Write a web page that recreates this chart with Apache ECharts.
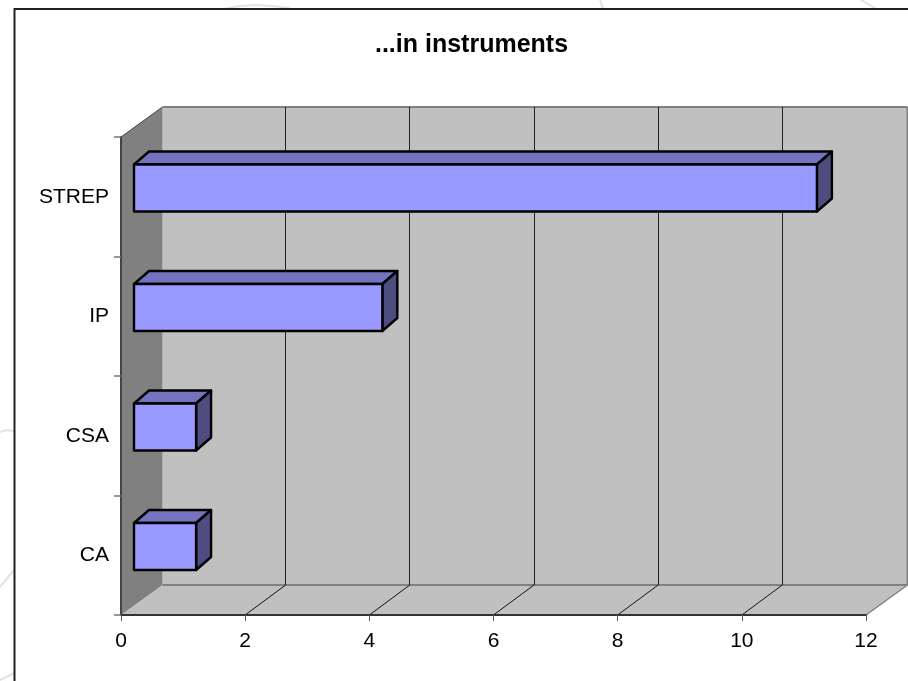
<!DOCTYPE html>
<html><head><meta charset="utf-8">
<style>html,body{margin:0;padding:0;background:#fff}#c{width:908px;height:681px}</style>
<script src="https://cdn.jsdelivr.net/npm/echarts@6/dist/echarts.min.js"></script>
</head><body><div id="c"></div>
<script>
var titleText = '...in instruments';
var categories = ['CA', 'CSA', 'IP', 'STREP'];
var values = [1, 1, 4, 11];
var xTicks = [0, 2, 4, 6, 8, 10, 12];

var FONT = '"Liberation Sans", Arial, sans-serif';
var WALL_DX = 41.5, WALL_DY = -30;
var BAR_SHIFT_X = 13, BAR_SHIFT_Y = -8.75, BAR_DX = 15, BAR_DY = -13, BAR_H = 47;
var C = {wall:'#C0C0C0', side:'#808080', edge:'#808080', grid:'#222222', front:'#9999FF', top:'#7373BF', right:'#4D4D80', faint:'#E2E2E2'};

var chart = echarts.init(document.getElementById('c'), null, {renderer:'canvas'});

function poly(pts, fill, stroke, lw){
  return {type:'polygon', shape:{points:pts}, style:{fill:fill, stroke:stroke||null, lineWidth:lw||0, lineJoin:'round'}};
}
function line(x1,y1,x2,y2,stroke,lw){
  return {type:'line', shape:{x1:x1,y1:y1,x2:x2,y2:y2}, style:{stroke:stroke, lineWidth:lw}};
}
function renderWalls(params, api){
  var g = params.coordSys, l=g.x, t=g.y, r=g.x+g.width, b=g.y+g.height, dx=WALL_DX, dy=WALL_DY;
  return {type:'group', children:[
    poly([[l+dx,t+dy],[r+dx,t+dy],[r+dx,b+dy],[l+dx,b+dy]], C.wall),
    poly([[l,b],[r,b],[r+dx,b+dy],[l+dx,b+dy]], C.wall),
    poly([[l,t],[l+dx,t+dy],[l+dx,b+dy],[l,b]], C.side),
    line(l,t,l+dx,t+dy,'#444444',1),
    line(l+dx,t+dy,r+dx,t+dy,C.edge,2),
    line(r+dx,t+dy,r+dx,b+dy,C.edge,2),
    line(l+dx,b+dy,r+dx,b+dy,C.edge,2),
    line(r,b,r+dx,b+dy,C.edge,1.5)
  ]};
}
function renderGrid(params, api){
  var v = api.value(0), g = params.coordSys;
  if (v === xTicks[0] || v === xTicks[xTicks.length-1]) return null;
  var c = api.coord([v,0])[0], x = Math.floor(c+WALL_DX-1)+0.5, b = g.y+g.height, t = g.y;
  return {type:'group', children:[
    line(x, t+WALL_DY, x, b+WALL_DY, C.grid, 1),
    line(c, b, c+WALL_DX-1, b+WALL_DY, '#111111', 1)
  ]};
}
function renderBar(params, api){
  var p0 = api.coord([0, api.value(1)]), p1 = api.coord([api.value(0), api.value(1)]);
  var l = p0[0]+BAR_SHIFT_X, r = p1[0]+BAR_SHIFT_X, cy = p0[1]+BAR_SHIFT_Y;
  var t = cy-BAR_H/2, b = cy+BAR_H/2, dx=BAR_DX, dy=BAR_DY, S='#000000', W=2.4;
  return {type:'group', children:[
    poly([[l,t],[l+dx,t+dy],[r+dx,t+dy],[r,t]], C.top, S, W),
    poly([[r,t],[r+dx,t+dy],[r+dx,b+dy],[r,b]], C.right, S, W),
    poly([[l,t],[r,t],[r,b],[l,b]], C.front, S, W)
  ]};
}
function faint(pts){
  return {type:'polyline', silent:true, z:0, shape:{points:pts}, style:{stroke:C.faint, lineWidth:2, fill:null}};
}

chart.setOption({
  animation:false,
  backgroundColor:'#ffffff',
  title:{text:titleText, left:466.5, top:28, textAlign:'center',
    textStyle:{fontFamily:FONT, fontSize:25, fontWeight:'bold', color:'#000'}},
  grid:{left:121, top:137, width:745, height:478},
  xAxis:{type:'value', min:0, max:12, interval:2, z:5,
    axisLine:{show:true, lineStyle:{color:'#333333', width:2}},
    axisTick:{show:true, length:6, lineStyle:{color:'#555555', width:1}},
    splitLine:{show:false},
    axisLabel:{color:'#000', fontFamily:FONT, fontSize:21, margin:16, showMinLabel:true, showMaxLabel:true}
  },
  yAxis:{type:'category', data:categories, z:5,
    axisLine:{show:true, lineStyle:{color:'#444444', width:2}},
    axisTick:{show:true, length:7, alignWithLabel:false, lineStyle:{color:'#777777', width:1.5}},
    splitLine:{show:false},
    axisLabel:{color:'#000', fontFamily:FONT, fontSize:21, margin:12}
  },
  graphic:{elements:[
    faint([[0,432],[7,430],[14,431]]),
    faint([[0,587],[14,570]]),
    faint([[0,680],[14,673]]),
    faint([[224,9],[240,6],[256,5],[272,6],[290,8]]),
    faint([[600,0],[603,9]]),
    faint([[861,0],[875,8]]),
    {type:'polyline', silent:true, z:1, shape:{points:[[920,9],[14.5,9],[14.5,700]]},
     style:{stroke:'#222222', lineWidth:2, fill:null}}
  ]},
  series:[
    {type:'custom', name:'walls', coordinateSystem:'cartesian2d', z:1, silent:true, renderItem:renderWalls, data:[[0,0]], clip:false},
    {type:'custom', name:'grid', coordinateSystem:'cartesian2d', z:2, silent:true, renderItem:renderGrid,
      data:xTicks.map(function(v){return [v,0];}), clip:false},
    {type:'custom', name:'bars', coordinateSystem:'cartesian2d', z:3, renderItem:renderBar,
      encode:{x:0,y:1}, data:values.map(function(v,i){return [v,i];}), clip:false}
  ]
});
</script></body></html>
